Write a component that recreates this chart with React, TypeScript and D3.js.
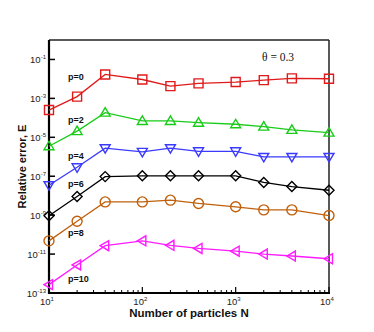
import React, { useEffect, useRef } from 'react';
import * as d3 from 'd3';

const particles = [10, 20, 40, 100, 200, 400, 1000, 2000, 4000, 10000];

const orders = ['p=0', 'p=2', 'p=4', 'p=6', 'p=8', 'p=10'];

// log10 of the relative error
const errP0 = [-3.6, -2.91, -1.77, -2.03, -2.37, -2.23, -2.16, -2.06, -1.97, -1.99];
const errP2 = [-5.46, -4.68, -3.73, -4.16, -4.16, -4.25, -4.33, -4.45, -4.62, -4.76];
const errP4 = [-7.46, -6.54, -5.56, -5.75, -5.56, -5.72, -5.72, -6.01, -6.01, -6.01];
const errP6 = [-9.03, -8.04, -7.02, -6.98, -6.98, -6.98, -6.98, -7.32, -7.53, -7.72];
const errP8 = [-10.32, -9.31, -8.32, -8.32, -8.23, -8.4, -8.57, -8.73, -8.73, -9.02];
const errP10 = [-12.57, -11.56, -10.57, -10.32, -10.55, -10.71, -10.85, -11.0, -11.1, -11.24];

const yTickExps = [-1, -3, -5, -7, -9, -11, -13];
const xTickExps = [1, 2, 3, 4];

const colors = ['#e01a1a', '#19cc19', '#3a3aff', '#000000', '#c0600c', '#ff1aff'];
const shapes = ['square', 'triUp', 'triDown', 'diamond', 'circle', 'triLeft'];
const labelPos = [
  { x: 68, y: 77 },
  { x: 68, y: 120 },
  { x: 68, y: 156 },
  { x: 68, y: 184 },
  { x: 68, y: 233 },
  { x: 68, y: 279 },
];

const markerPath = (shape: string, x: number, y: number) => {
  const s = 4.5;
  switch (shape) {
    case 'square':
      return `M${x - s},${y - s}H${x + s}V${y + s}H${x - s}Z`;
    case 'triUp':
      return `M${x},${y - s - 0.5}L${x + s + 0.5},${y + s - 1}L${x - s - 0.5},${y + s - 1}Z`;
    case 'triDown':
      return `M${x},${y + s + 0.5}L${x + s + 0.5},${y - s + 1}L${x - s - 0.5},${y - s + 1}Z`;
    case 'triLeft':
      return `M${x - s - 0.5},${y}L${x + s - 1},${y - s - 0.5}L${x + s - 1},${y + s + 0.5}Z`;
    case 'diamond':
      return `M${x},${y - s - 0.5}L${x + s + 0.5},${y}L${x},${y + s + 0.5}L${x - s - 0.5},${y}Z`;
    default:
      return d3.path().toString();
  }
};

const App = () => {
  const svgRef = useRef<SVGSVGElement>(null);

  useEffect(() => {
    const svg = d3.select(svgRef.current);
    svg.selectAll('*').remove();

    const width = 374;
    const height = 332;
    const margin = { top: 40, right: 45, bottom: 39, left: 49 };
    const x = d3.scaleLog().domain([10, 10000]).range([margin.left, width - margin.right]);
    const y = d3.scaleLinear().domain([-13, 0]).range([height - margin.bottom, margin.top]);

    svg.attr('width', width).attr('height', height);

    const font = 'Liberation Sans, Arial, sans-serif';
    const [x0, x1] = x.range();
    const [y0, y1] = y.range();

    // frame
    svg.append('line').attr('x1', x0).attr('x2', x1).attr('y1', y1).attr('y2', y1)
      .attr('stroke', '#222').attr('stroke-width', 1.5);
    svg.append('line').attr('x1', x1).attr('x2', x1).attr('y1', y1).attr('y2', y0)
      .attr('stroke', '#222').attr('stroke-width', 1.5);

    // y ticks
    yTickExps.forEach(e => {
      svg.append('line').attr('x1', x0).attr('x2', x0 + 6).attr('y1', y(e)).attr('y2', y(e))
        .attr('stroke', '#000').attr('stroke-width', 1.5);
      const t = svg.append('text').attr('x', x0 - 3).attr('y', y(e) + 3.5)
        .attr('text-anchor', 'end').style('font-family', font).style('font-size', '9.5px').style('fill', '#222');
      t.append('tspan').text('10');
      t.append('tspan').attr('dy', -4).style('font-size', '6px').text(`${e}`);
    });

    // x ticks (major + minor)
    xTickExps.forEach(e => {
      const v = Math.pow(10, e);
      svg.append('line').attr('x1', x(v)).attr('x2', x(v)).attr('y1', y0).attr('y2', y0 - 6)
        .attr('stroke', '#000').attr('stroke-width', 1.2);
      const t = svg.append('text').attr('x', x(v) - 2).attr('y', y0 + 12)
        .attr('text-anchor', 'middle').style('font-family', font).style('font-size', '9.5px').style('fill', '#222');
      t.append('tspan').text('10');
      t.append('tspan').attr('dy', -4).style('font-size', '6px').text(`${e}`);
      if (e < 4) {
        for (let k = 2; k <= 9; k++) {
          svg.append('line').attr('x1', x(k * v)).attr('x2', x(k * v)).attr('y1', y0).attr('y2', y0 - 3)
            .attr('stroke', '#000').attr('stroke-width', 1);
        }
      }
    });

    // axes lines (thick)
    svg.append('line').attr('x1', x0).attr('x2', x0).attr('y1', y1).attr('y2', y0 + 1)
      .attr('stroke', '#000').attr('stroke-width', 2.2);
    svg.append('line').attr('x1', x0 - 1).attr('x2', x1 + 1).attr('y1', y0).attr('y2', y0)
      .attr('stroke', '#000').attr('stroke-width', 2.2);

    const series = [errP0, errP2, errP4, errP6, errP8, errP10];
    const line = d3.line<number>().x((_, i) => x(particles[i])).y(d => y(d));

    series.forEach((s, si) => {
      svg.append('path').datum(s).attr('d', line).attr('fill', 'none')
        .attr('stroke', colors[si]).attr('stroke-width', 1.3);
      s.forEach((v, i) => {
        const px = x(particles[i]);
        const py = y(v);
        if (shapes[si] === 'circle') {
          svg.append('circle').attr('cx', px).attr('cy', py).attr('r', 5)
            .attr('fill', 'none').attr('stroke', colors[si]).attr('stroke-width', 1.4);
        } else {
          svg.append('path').attr('d', markerPath(shapes[si], px, py))
            .attr('fill', 'none').attr('stroke', colors[si]).attr('stroke-width', 1.4);
        }
      });
      svg.append('text').attr('x', labelPos[si].x).attr('y', labelPos[si].y + 3)
        .style('font-family', font).style('font-size', '9px').style('font-weight', 'bold')
        .style('fill', '#111').text(orders[si]);
    });

    svg.append('text').attr('x', 262).attr('y', 61)
      .style('font-family', 'Liberation Serif, Times New Roman, serif').style('font-size', '11.5px')
      .style('fill', '#111').text('θ = 0.3');

    svg.append('text').attr('x', (x0 + x1) / 2).attr('y', 317).attr('text-anchor', 'middle')
      .style('font-family', font).style('font-size', '11.5px').style('font-weight', 'bold')
      .style('fill', '#111').text('Number of particles N');

    svg.append('text').attr('transform', `translate(26,${(y0 + y1) / 2}) rotate(-90)`)
      .attr('text-anchor', 'middle')
      .style('font-family', font).style('font-size', '11px').style('font-weight', 'bold')
      .style('fill', '#111').text('Relative error, E');
  }, []);

  return <svg ref={svgRef} style={{ position: 'absolute', left: 0, top: 0 }}></svg>;
};

export default App;
